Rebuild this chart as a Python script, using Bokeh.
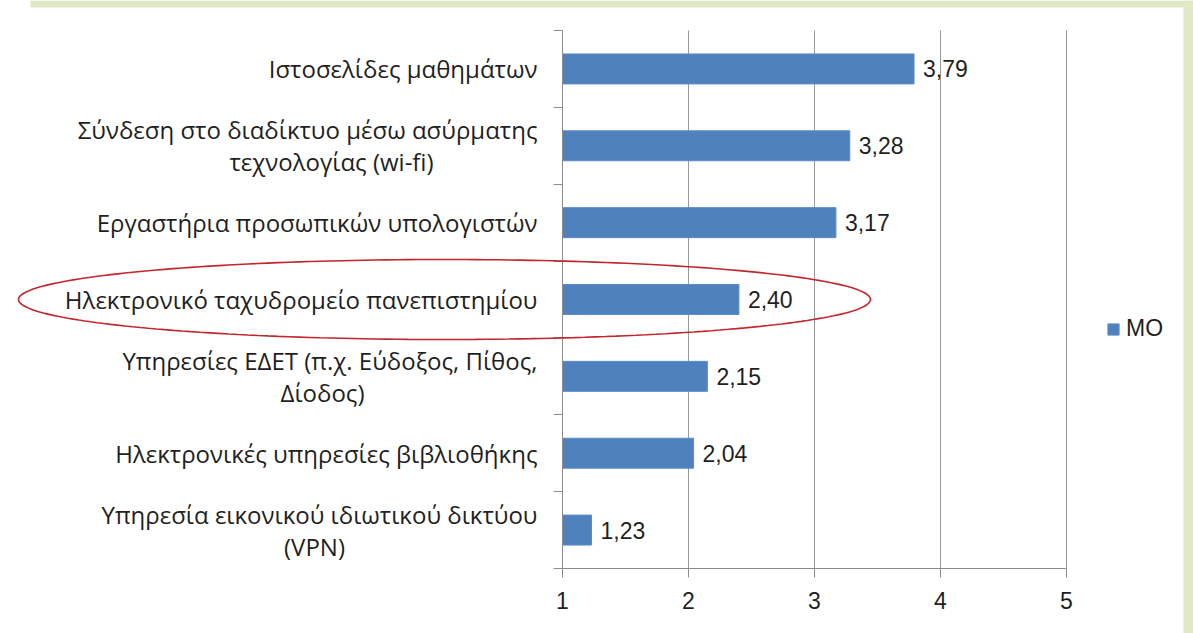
import numpy as np
from bokeh.plotting import figure
from bokeh.models import Range1d, FixedTicker, ColumnDataSource, LabelSet, PolyAnnotation, BoxAnnotation
from bokeh.core.properties import value
from bokeh.embed import file_html
from bokeh.resources import INLINE

# ---- data ----
categories = [
    "Ιστοσελίδες μαθημάτων",
    "Σύνδεση στο διαδίκτυο μέσω ασύρματης\nτεχνολογίας (wi-fi)",
    "Εργαστήρια προσωπικών υπολογιστών",
    "Ηλεκτρονικό ταχυδρομείο πανεπιστημίου",
    "Υπηρεσίες ΕΔΕΤ (π.χ. Εύδοξος, Πίθος,\nΔίοδος)",
    "Ηλεκτρονικές υπηρεσίες βιβλιοθήκης",
    "Υπηρεσία εικονικού ιδιωτικού δικτύου\n(VPN)",
]
values = [3.79, 3.28, 3.17, 2.40, 2.15, 2.04, 1.23]
series_name = "MO"
x_ticks = [1, 2, 3, 4, 5]
highlighted = "Ηλεκτρονικό ταχυδρομείο πανεπιστημίου"

n = len(categories)
ypos = [n - 0.5 - i for i in range(n)]
value_text = [f"{v:.2f}".replace(".", ",") for v in values]

# ---- layout (pixels) ----
W, H = 1193, 633
AX_X, UNIT_X = 562, 126          # pixel of x=1, pixels per unit
TOP_Y, BOT_Y = 30, 568           # pixel rows of category area
unit_y = (BOT_Y - TOP_Y) / n
xr = Range1d(x_ticks[0] - AX_X / UNIT_X, x_ticks[0] + (W - AX_X) / UNIT_X)
yr = Range1d(-(H - BOT_Y) / unit_y, n + TOP_Y / unit_y)

BLUE = "#4f81bd"
TXT = "#1f1f1f"
AXC = "#8c8c8c"
GREEN = "#e1e8c6"
LABEL_FONT = "Open Sans"
NUM_FONT = "Liberation Sans"
LABEL_SIZE = "24px"
NUM_SIZE = "23px"
LABEL_GAP = -25                  # right edge of category labels from the axis
LINE_HALF = 16                   # half spacing of two-line labels
second_line_center = {1: -231, 4: -240, 6: -248}

p = figure(width=W, height=H, output_backend="svg", toolbar_location=None,
           x_range=xr, y_range=yr, min_border=0)
p.outline_line_color = None
p.background_fill_color = "white"
p.border_fill_color = "white"
p.xgrid.grid_line_color = None
p.ygrid.grid_line_color = None

# page border bands
p.add_layout(BoxAnnotation(bottom=yr.end - 7 / unit_y, left=xr.start + 30 / UNIT_X,
                           fill_color=GREEN, fill_alpha=1, line_color=None, level="underlay"))
p.add_layout(BoxAnnotation(left=xr.end - 10 / UNIT_X, fill_color=GREEN, fill_alpha=1,
                           line_color=None, level="underlay"))

# vertical grid lines at ticks (within the category area)
p.segment(x0=x_ticks[1:], y0=0, x1=x_ticks[1:], y1=n, line_color="#9a9a9a", line_width=1)

src = ColumnDataSource(dict(y=ypos, v=values, vt=value_text))
p.hbar(y="y", left=x_ticks[0], right="v", height=0.39, source=src, fill_color=BLUE,
       line_color="#5b8cc8", line_width=1, legend_label=series_name)

# x axis
xa = p.xaxis[0]
xa.fixed_location = 0
xa.bounds = (x_ticks[0], x_ticks[-1])
xa.ticker = FixedTicker(ticks=x_ticks)
xa.axis_line_color = AXC
xa.major_tick_line_color = AXC
xa.major_tick_out = 9
xa.major_tick_in = 0
xa.minor_tick_line_color = None
xa.major_label_text_font = NUM_FONT
xa.major_label_text_font_size = NUM_SIZE
xa.major_label_text_color = TXT
xa.major_label_standoff = 14

# y axis: ticks at category boundaries
ya = p.yaxis[0]
ya.fixed_location = x_ticks[0]
ya.bounds = (0, n)
ya.ticker = FixedTicker(ticks=[], minor_ticks=list(range(n + 1)))
ya.axis_line_color = AXC
ya.major_tick_line_color = None
ya.minor_tick_line_color = AXC
ya.minor_tick_out = 9
ya.minor_tick_in = 0

# category labels (first lines right-aligned, second lines centred)
r_x, r_y, r_t, r_dy = [], [], [], []
c_x, c_y, c_t, c_dx = [], [], [], []
for i, c in enumerate(categories):
    lines = c.split("\n")
    if len(lines) == 1:
        r_x.append(x_ticks[0]); r_y.append(ypos[i]); r_t.append(c); r_dy.append(0)
    else:
        r_x.append(x_ticks[0]); r_y.append(ypos[i]); r_t.append(lines[0]); r_dy.append(LINE_HALF)
        c_x.append(x_ticks[0]); c_y.append(ypos[i]); c_t.append(lines[1]); c_dx.append(second_line_center[i])
s1 = ColumnDataSource(dict(x=r_x, y=r_y, t=r_t, dy=r_dy))
p.add_layout(LabelSet(x="x", y="y", text="t", source=s1, x_offset=LABEL_GAP, y_offset="dy",
                      text_align="right", text_baseline="middle",
                      text_font=value(LABEL_FONT), text_font_size=value(LABEL_SIZE),
                      text_color=TXT))
s2 = ColumnDataSource(dict(x=c_x, y=c_y, t=c_t, dx=c_dx))
p.add_layout(LabelSet(x="x", y="y", text="t", source=s2, x_offset="dx", y_offset=-LINE_HALF,
                      text_align="center", text_baseline="middle",
                      text_font=value(LABEL_FONT), text_font_size=value(LABEL_SIZE),
                      text_color=TXT))

# value labels
p.add_layout(LabelSet(x="v", y="y", text="vt", source=src, x_offset=9,
                      text_align="left", text_baseline="middle",
                      text_font=value(NUM_FONT), text_font_size=value(NUM_SIZE),
                      text_color=TXT))

# highlight ellipse around a category
hi = categories.index(highlighted)
cx, cy = x_ticks[0] + (444 - AX_X) / UNIT_X, ypos[hi]
rx, ry = 426 / UNIT_X, 40 / unit_y
th = np.linspace(0, 2 * np.pi, 240)
p.add_layout(PolyAnnotation(xs=list(cx + rx * np.cos(th)), ys=list(cy + ry * np.sin(th)),
                            fill_alpha=0, line_color="#c0282d", line_alpha=1, line_width=1.6))

# legend
lg = p.legend[0]
lg.location = (1106, H - 342)
lg.border_line_color = None
lg.background_fill_alpha = 0
lg.padding = 0
lg.margin = 0
lg.glyph_width = 14
lg.glyph_height = 14
lg.label_standoff = 6
lg.label_text_font = NUM_FONT
lg.label_text_font_size = "23px"
lg.label_text_color = TXT

open("out.html", "w").write(file_html(p, INLINE))
